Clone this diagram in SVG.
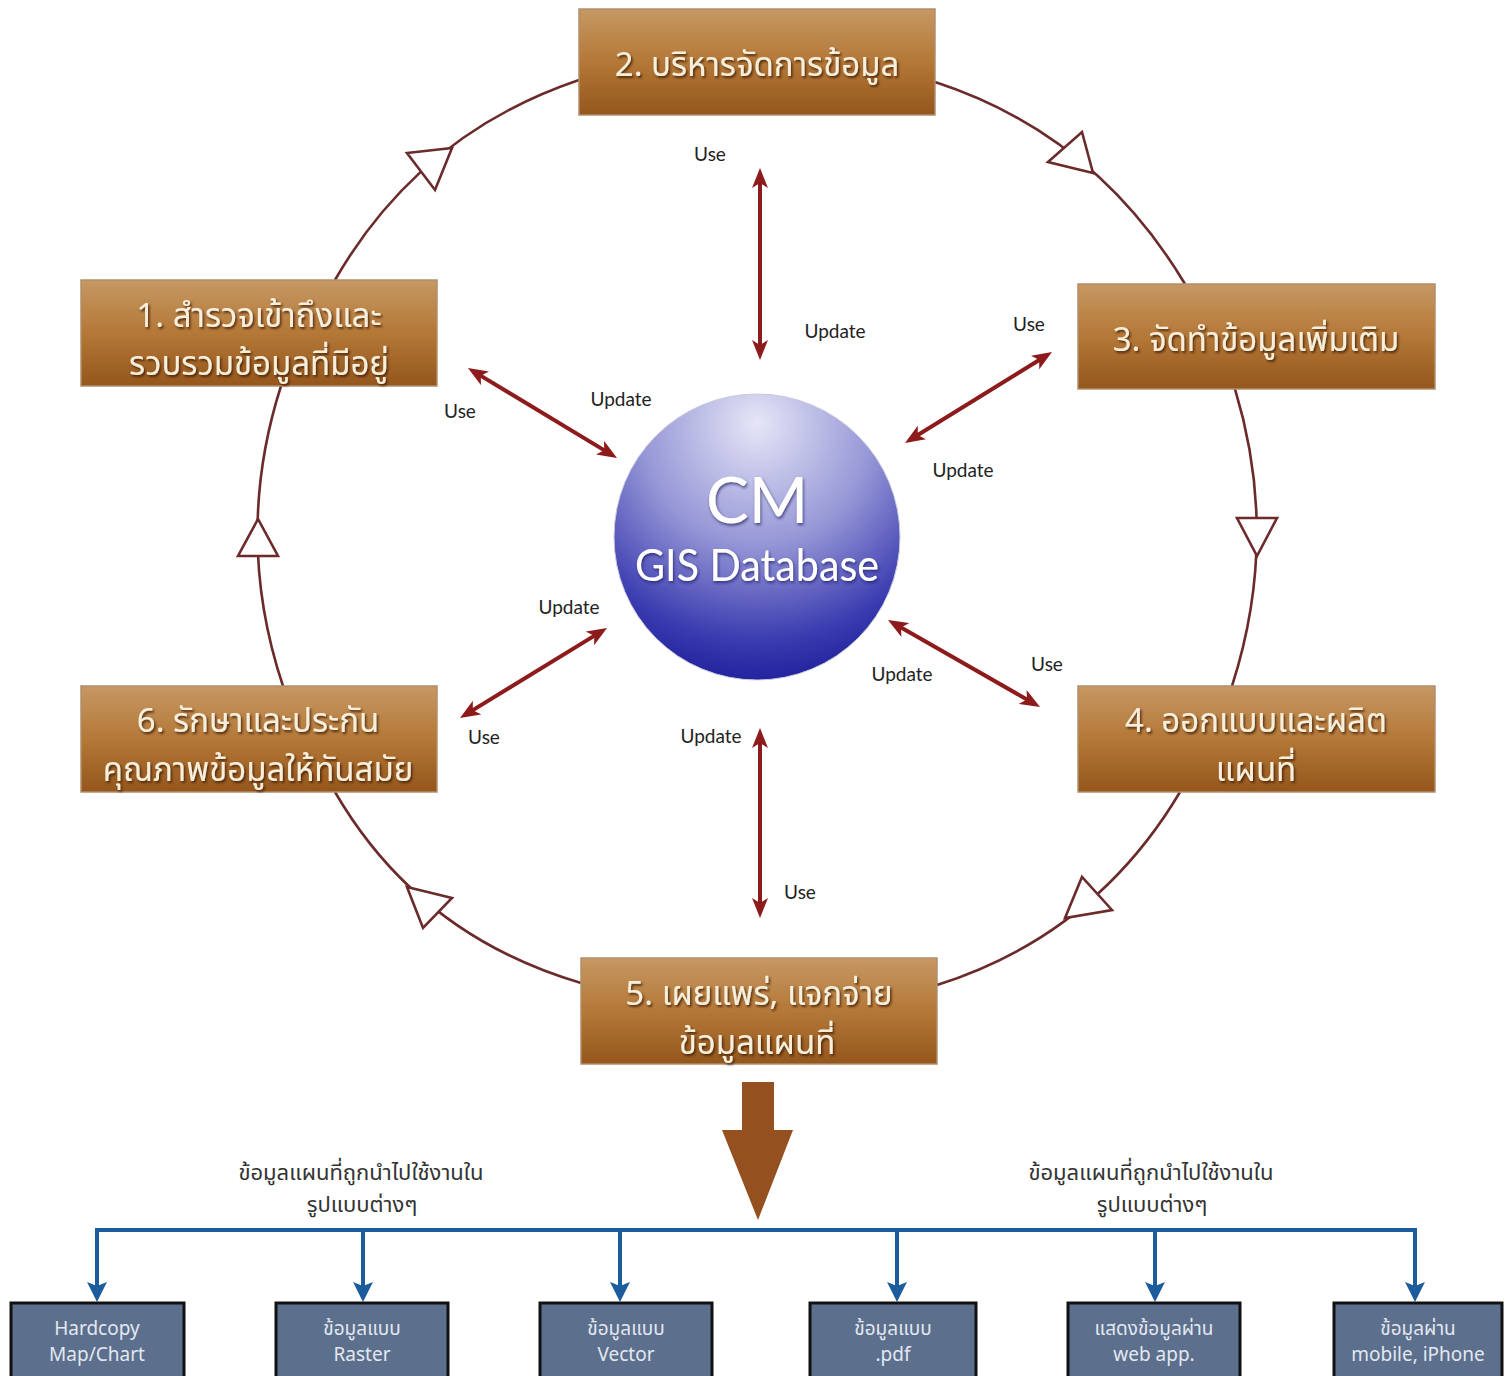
<svg xmlns="http://www.w3.org/2000/svg" width="1507" height="1376" viewBox="0 0 1507 1376">
<style>
.ring{fill:none;stroke:#6b2b2b;stroke-width:2.6}
.tri{fill:#ffffff;stroke:#6b2b2b;stroke-width:2.6;stroke-linejoin:miter}
.red{stroke:#8e1b1b;stroke-width:4;fill:none;marker-start:url(#rh);marker-end:url(#rh)}
.blue{stroke:#1d5c9c;stroke-width:4;fill:none}
.drop{stroke:#1d5c9c;stroke-width:4;fill:none;marker-end:url(#bh)}
.lbl{font-family:Lato,"Open Sans","Liberation Sans",sans-serif;font-size:19px;fill:#222;text-anchor:middle}
.box{fill:url(#brown);stroke:#b08e6c;stroke-width:1.5}
.bt{font-family:"Noto Sans Thai","Noto Sans","DejaVu Sans",sans-serif;font-size:33px;fill:#f7efdc;text-anchor:middle;filter:url(#sh)}
.sb{fill:#5c6f8d;stroke:#111;stroke-width:3}
.st{font-family:"Noto Sans Thai",Lato,"Noto Sans",sans-serif;font-size:19px;fill:#e3e8f0;text-anchor:middle}
.cap{font-family:"Noto Sans Thai","Noto Sans",sans-serif;font-size:22px;fill:#333;text-anchor:middle}
.ct{font-family:Lato,"Open Sans","Liberation Sans",sans-serif;fill:#ffffff;text-anchor:middle;filter:url(#sh2)}
</style>
<defs>
<linearGradient id="brown" x1="0" y1="0" x2="0" y2="1">
<stop offset="0" stop-color="#c69863"/>
<stop offset="0.5" stop-color="#b47837"/>
<stop offset="1" stop-color="#94561c"/>
</linearGradient>
<radialGradient id="sphere" cx="0.5" cy="0.15" r="0.9" fx="0.5" fy="0.1">
<stop offset="0" stop-color="#e6e6f7"/>
<stop offset="0.45" stop-color="#9596d6"/>
<stop offset="0.8" stop-color="#3b3cb0"/>
<stop offset="1" stop-color="#1a1a98"/>
</radialGradient>
<filter id="sh" x="-10%" y="-30%" width="120%" height="160%">
<feDropShadow dx="1.5" dy="2" stdDeviation="1.2" flood-color="#3a1e06" flood-opacity="0.8"/>
</filter>
<filter id="sh2" x="-10%" y="-30%" width="120%" height="160%">
<feDropShadow dx="1" dy="2" stdDeviation="1.5" flood-color="#1a1a60" flood-opacity="0.7"/>
</filter>
<marker id="rh" viewBox="0 0 20 16" refX="14" refY="8" markerWidth="20" markerHeight="16" markerUnits="userSpaceOnUse" orient="auto-start-reverse">
<path d="M0,0 L20,8 L0,16 L5,8 z" fill="#8e1b1b"/>
</marker>
<marker id="bh" viewBox="0 0 20 20" refX="14" refY="10" markerWidth="20" markerHeight="20" markerUnits="userSpaceOnUse" orient="auto">
<path d="M0,0 L20,10 L0,20 L4,10 z" fill="#1d5c9c"/>
</marker>
</defs>
<rect width="1507" height="1376" fill="#ffffff"/>

<g id="connectors">
<path class="ring" d="M335,280 Q419,134 579,80"/>
<path class="ring" d="M935,82 Q1095,134 1185,284"/>
<path class="ring" d="M1235,389 Q1280,537 1232,686"/>
<path class="ring" d="M1180,792 Q1095,935 937,985"/>
<path class="ring" d="M581,983 Q418,935 335,792"/>
<path class="ring" d="M283,686 Q233,536 281,386"/>
<polygon class="tri" points="407,153 452,148 435,190"/>
<polygon class="tri" points="1048,162 1082,132 1093,173"/>
<polygon class="tri" points="1237,518 1277,518 1257,556"/>
<polygon class="tri" points="1065,918 1082,877 1112,910"/>
<polygon class="tri" points="407,887 452,898 423,928"/>
<polygon class="tri" points="258,519 238,556 278,556"/>

<line class="red" x1="760" y1="174" x2="760" y2="354"/>
<line class="red" x1="473.1" y1="371.1" x2="611.9" y2="454.9"/>
<line class="red" x1="1046.9" y1="355.2" x2="910.1" y2="439.8"/>
<line class="red" x1="601.9" y1="631.1" x2="465.1" y2="714.9"/>
<line class="red" x1="893.2" y1="623" x2="1034.8" y2="704"/>
<line class="red" x1="760" y1="734" x2="760" y2="912"/>

<polygon points="742,1082 774,1082 774,1130 793,1130 758,1220 722,1130 742,1130" fill="#94501f"/>

<line class="blue" x1="95" y1="1230" x2="1417" y2="1230"/>
<line class="drop" x1="97" y1="1230" x2="97" y2="1296"/>
<line class="drop" x1="363" y1="1230" x2="363" y2="1296"/>
<line class="drop" x1="620" y1="1230" x2="620" y2="1296"/>
<line class="drop" x1="897" y1="1230" x2="897" y2="1296"/>
<line class="drop" x1="1155" y1="1230" x2="1155" y2="1296"/>
<line class="drop" x1="1415" y1="1230" x2="1415" y2="1296"/>

<text class="lbl" x="710" y="161">Use</text>
<text class="lbl" x="835" y="338">Update</text>
<text class="lbl" x="460" y="418">Use</text>
<text class="lbl" x="621" y="406">Update</text>
<text class="lbl" x="1029" y="331">Use</text>
<text class="lbl" x="963" y="477">Update</text>
<text class="lbl" x="569" y="614">Update</text>
<text class="lbl" x="484" y="744">Use</text>
<text class="lbl" x="902" y="681">Update</text>
<text class="lbl" x="1047" y="671">Use</text>
<text class="lbl" x="711" y="743">Update</text>
<text class="lbl" x="800" y="899">Use</text>

<text class="cap" x="361" y="1180">ข้อมูลแผนที่ถูกนำไปใช้งานใน</text>
<text class="cap" x="362" y="1212">รูปแบบต่างๆ</text>
<text class="cap" x="1151" y="1180">ข้อมูลแผนที่ถูกนำไปใช้งานใน</text>
<text class="cap" x="1152" y="1212">รูปแบบต่างๆ</text>
</g>

<g id="db">
<circle cx="757" cy="537" r="143" fill="url(#sphere)" stroke="#c9c9dd" stroke-width="1"/>
<text class="ct" x="757" y="523" font-size="64">CM</text>
<text class="ct" x="757" y="581" font-size="44" textLength="244" lengthAdjust="spacingAndGlyphs">GIS Database</text>
</g>

<g id="step1">
<rect class="box" x="81" y="280" width="356" height="106"/>
<text class="bt" x="259" y="327">1. สำรวจเข้าถึงและ</text>
<text class="bt" x="259" y="375">รวบรวมข้อมูลที่มีอยู่</text>
</g>
<g id="step2">
<rect class="box" x="579" y="9" width="356" height="106"/>
<text class="bt" x="757" y="76" font-size="35">2. บริหารจัดการข้อมูล</text>
</g>
<g id="step3">
<rect class="box" x="1078" y="284" width="357" height="105"/>
<text class="bt" x="1256" y="351" font-size="35">3. จัดทำข้อมูลเพิ่มเติม</text>
</g>
<g id="step4">
<rect class="box" x="1078" y="686" width="357" height="106"/>
<text class="bt" x="1256" y="732">4. ออกแบบและผลิต</text>
<text class="bt" x="1256" y="781">แผนที่</text>
</g>
<g id="step5">
<rect class="box" x="581" y="958" width="356" height="106"/>
<text class="bt" x="759" y="1005">5. เผยแพร่, แจกจ่าย</text>
<text class="bt" x="757" y="1054">ข้อมูลแผนที่</text>
</g>
<g id="step6">
<rect class="box" x="81" y="686" width="356" height="106"/>
<text class="bt" x="258" y="732">6. รักษาและประกัน</text>
<text class="bt" x="258" y="781">คุณภาพข้อมูลให้ทันสมัย</text>
</g>

<g id="out1">
<rect class="sb" x="11" y="1303" width="173" height="80"/>
<text class="st" x="97" y="1335">Hardcopy</text>
<text class="st" x="97" y="1361">Map/Chart</text>
</g>
<g id="out2">
<rect class="sb" x="276" y="1303" width="172" height="80"/>
<text class="st" x="362" y="1335">ข้อมูลแบบ</text>
<text class="st" x="362" y="1361">Raster</text>
</g>
<g id="out3">
<rect class="sb" x="540" y="1303" width="172" height="80"/>
<text class="st" x="626" y="1335">ข้อมูลแบบ</text>
<text class="st" x="626" y="1361">Vector</text>
</g>
<g id="out4">
<rect class="sb" x="810" y="1303" width="166" height="80"/>
<text class="st" x="893" y="1335">ข้อมูลแบบ</text>
<text class="st" x="893" y="1361">.pdf</text>
</g>
<g id="out5">
<rect class="sb" x="1068" y="1303" width="172" height="80"/>
<text class="st" x="1154" y="1335">แสดงข้อมูลผ่าน</text>
<text class="st" x="1154" y="1361">web app.</text>
</g>
<g id="out6">
<rect class="sb" x="1334" y="1303" width="168" height="80"/>
<text class="st" x="1418" y="1335">ข้อมูลผ่าน</text>
<text class="st" x="1418" y="1361">mobile, iPhone</text>
</g>
</svg>
